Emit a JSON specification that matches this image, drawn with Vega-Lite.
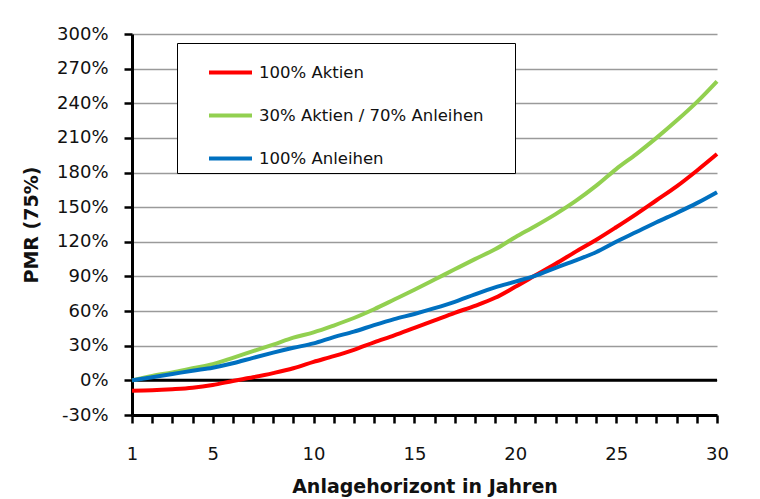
{
  "$schema": "https://vega.github.io/schema/vega-lite/v6.json",
  "width": 585,
  "height": 381,
  "autosize": {"type": "none"},
  "padding": {"left": 132, "top": 34, "right": 43, "bottom": 84},
  "background": "white",
  "config": {
    "view": {"stroke": null},
    "font": "DejaVu Sans",
    "axis": {"labelFont": "DejaVu Sans", "titleFont": "DejaVu Sans", "labelColor": "#111", "titleColor": "#111"},
    "axisY": {
      "labelOverlap": false, "labelFlush": false, "labelBound": false,
      "grid": true, "gridColor": "#9a9a9a", "gridWidth": 1.5,
      "domainColor": "black", "domainWidth": 3,
      "tickColor": "black", "tickWidth": 2.5, "tickSize": 8,
      "labelFontSize": 18, "labelPadding": 16,
      "titleFontSize": 19, "titleFontWeight": "bold", "titlePadding": 15
    }
  },
  "datasets": {
    "nulllinie": [{"wert": 0}],
    "pmr": [
      {"jahr": 1, "serie": "100% Aktien", "wert": -9},
      {"jahr": 2, "serie": "100% Aktien", "wert": -8.6},
      {"jahr": 3, "serie": "100% Aktien", "wert": -7.7},
      {"jahr": 4, "serie": "100% Aktien", "wert": -6.4},
      {"jahr": 5, "serie": "100% Aktien", "wert": -4.0},
      {"jahr": 6, "serie": "100% Aktien", "wert": -0.5},
      {"jahr": 7, "serie": "100% Aktien", "wert": 2.7},
      {"jahr": 8, "serie": "100% Aktien", "wert": 6.3},
      {"jahr": 9, "serie": "100% Aktien", "wert": 10.5},
      {"jahr": 10, "serie": "100% Aktien", "wert": 16},
      {"jahr": 11, "serie": "100% Aktien", "wert": 21},
      {"jahr": 12, "serie": "100% Aktien", "wert": 26.5},
      {"jahr": 13, "serie": "100% Aktien", "wert": 33},
      {"jahr": 14, "serie": "100% Aktien", "wert": 39},
      {"jahr": 15, "serie": "100% Aktien", "wert": 45.5},
      {"jahr": 16, "serie": "100% Aktien", "wert": 52},
      {"jahr": 17, "serie": "100% Aktien", "wert": 58.5},
      {"jahr": 18, "serie": "100% Aktien", "wert": 64.5},
      {"jahr": 19, "serie": "100% Aktien", "wert": 71.5},
      {"jahr": 20, "serie": "100% Aktien", "wert": 81},
      {"jahr": 21, "serie": "100% Aktien", "wert": 91},
      {"jahr": 22, "serie": "100% Aktien", "wert": 101},
      {"jahr": 23, "serie": "100% Aktien", "wert": 111.5},
      {"jahr": 24, "serie": "100% Aktien", "wert": 121.6},
      {"jahr": 25, "serie": "100% Aktien", "wert": 132.6},
      {"jahr": 26, "serie": "100% Aktien", "wert": 144},
      {"jahr": 27, "serie": "100% Aktien", "wert": 156},
      {"jahr": 28, "serie": "100% Aktien", "wert": 168},
      {"jahr": 29, "serie": "100% Aktien", "wert": 181.6},
      {"jahr": 30, "serie": "100% Aktien", "wert": 196},
      {"jahr": 1, "serie": "30% Aktien / 70% Anleihen", "wert": 0},
      {"jahr": 2, "serie": "30% Aktien / 70% Anleihen", "wert": 3.8},
      {"jahr": 3, "serie": "30% Aktien / 70% Anleihen", "wert": 6.9},
      {"jahr": 4, "serie": "30% Aktien / 70% Anleihen", "wert": 10.5},
      {"jahr": 5, "serie": "30% Aktien / 70% Anleihen", "wert": 14},
      {"jahr": 6, "serie": "30% Aktien / 70% Anleihen", "wert": 19.5},
      {"jahr": 7, "serie": "30% Aktien / 70% Anleihen", "wert": 25.3},
      {"jahr": 8, "serie": "30% Aktien / 70% Anleihen", "wert": 31},
      {"jahr": 9, "serie": "30% Aktien / 70% Anleihen", "wert": 37},
      {"jahr": 10, "serie": "30% Aktien / 70% Anleihen", "wert": 41.6},
      {"jahr": 11, "serie": "30% Aktien / 70% Anleihen", "wert": 47.5},
      {"jahr": 12, "serie": "30% Aktien / 70% Anleihen", "wert": 54},
      {"jahr": 13, "serie": "30% Aktien / 70% Anleihen", "wert": 61.6},
      {"jahr": 14, "serie": "30% Aktien / 70% Anleihen", "wert": 70},
      {"jahr": 15, "serie": "30% Aktien / 70% Anleihen", "wert": 78.5},
      {"jahr": 16, "serie": "30% Aktien / 70% Anleihen", "wert": 87.3},
      {"jahr": 17, "serie": "30% Aktien / 70% Anleihen", "wert": 96.2},
      {"jahr": 18, "serie": "30% Aktien / 70% Anleihen", "wert": 105},
      {"jahr": 19, "serie": "30% Aktien / 70% Anleihen", "wert": 113.5},
      {"jahr": 20, "serie": "30% Aktien / 70% Anleihen", "wert": 124},
      {"jahr": 21, "serie": "30% Aktien / 70% Anleihen", "wert": 133.7},
      {"jahr": 22, "serie": "30% Aktien / 70% Anleihen", "wert": 144},
      {"jahr": 23, "serie": "30% Aktien / 70% Anleihen", "wert": 155.4},
      {"jahr": 24, "serie": "30% Aktien / 70% Anleihen", "wert": 168.4},
      {"jahr": 25, "serie": "30% Aktien / 70% Anleihen", "wert": 183},
      {"jahr": 26, "serie": "30% Aktien / 70% Anleihen", "wert": 196},
      {"jahr": 27, "serie": "30% Aktien / 70% Anleihen", "wert": 210},
      {"jahr": 28, "serie": "30% Aktien / 70% Anleihen", "wert": 225},
      {"jahr": 29, "serie": "30% Aktien / 70% Anleihen", "wert": 241},
      {"jahr": 30, "serie": "30% Aktien / 70% Anleihen", "wert": 259},
      {"jahr": 1, "serie": "100% Anleihen", "wert": 0},
      {"jahr": 2, "serie": "100% Anleihen", "wert": 2.7},
      {"jahr": 3, "serie": "100% Anleihen", "wert": 5.5},
      {"jahr": 4, "serie": "100% Anleihen", "wert": 8.4},
      {"jahr": 5, "serie": "100% Anleihen", "wert": 11},
      {"jahr": 6, "serie": "100% Anleihen", "wert": 14.8},
      {"jahr": 7, "serie": "100% Anleihen", "wert": 19.5},
      {"jahr": 8, "serie": "100% Anleihen", "wert": 24},
      {"jahr": 9, "serie": "100% Anleihen", "wert": 28.2},
      {"jahr": 10, "serie": "100% Anleihen", "wert": 32},
      {"jahr": 11, "serie": "100% Anleihen", "wert": 37.5},
      {"jahr": 12, "serie": "100% Anleihen", "wert": 42.2},
      {"jahr": 13, "serie": "100% Anleihen", "wert": 47.8},
      {"jahr": 14, "serie": "100% Anleihen", "wert": 53},
      {"jahr": 15, "serie": "100% Anleihen", "wert": 57.5},
      {"jahr": 16, "serie": "100% Anleihen", "wert": 62.5},
      {"jahr": 17, "serie": "100% Anleihen", "wert": 68},
      {"jahr": 18, "serie": "100% Anleihen", "wert": 74.5},
      {"jahr": 19, "serie": "100% Anleihen", "wert": 80.5},
      {"jahr": 20, "serie": "100% Anleihen", "wert": 85.5},
      {"jahr": 21, "serie": "100% Anleihen", "wert": 90.7},
      {"jahr": 22, "serie": "100% Anleihen", "wert": 97.5},
      {"jahr": 23, "serie": "100% Anleihen", "wert": 104},
      {"jahr": 24, "serie": "100% Anleihen", "wert": 111},
      {"jahr": 25, "serie": "100% Anleihen", "wert": 120},
      {"jahr": 26, "serie": "100% Anleihen", "wert": 128.5},
      {"jahr": 27, "serie": "100% Anleihen", "wert": 137},
      {"jahr": 28, "serie": "100% Anleihen", "wert": 145},
      {"jahr": 29, "serie": "100% Anleihen", "wert": 153.5},
      {"jahr": 30, "serie": "100% Anleihen", "wert": 163}
    ]
  },
  "layer": [
    {
      "data": {"name": "nulllinie"},
      "mark": {"type": "rule", "color": "black", "strokeWidth": 3},
      "encoding": {
        "y": {
          "field": "wert", "type": "quantitative",
          "scale": {"domain": [-30, 300], "nice": false, "zero": false},
          "axis": {
            "title": "PMR (75%)",
            "values": [-30, 0, 30, 60, 90, 120, 150, 180, 210, 240, 270, 300],
            "tickCount": 40,
            "labelExpr": "datum.value + '%'"
          }
        }
      }
    },
    {
      "data": {"name": "pmr"},
      "mark": {"type": "line", "strokeWidth": 4, "interpolate": "monotone", "clip": false},
      "encoding": {
        "x": {
          "field": "jahr", "type": "quantitative",
          "scale": {"domain": [1, 30], "nice": false, "zero": false},
          "axis": {
            "title": "Anlagehorizont in Jahren",
            "values": [1,2,3,4,5,6,7,8,9,10,11,12,13,14,15,16,17,18,19,20,21,22,23,24,25,26,27,28,29,30],
            "tickCount": 60,
            "labelExpr": "datum.value == 1 || datum.value % 5 == 0 ? datum.value : ''",
            "labelOverlap": false, "labelFlush": false, "labelBound": false,
            "grid": false,
            "domainColor": "black", "domainWidth": 3,
            "tickColor": "black", "tickWidth": 2.5, "tickSize": 8,
            "labelFontSize": 18, "labelPadding": 22,
            "titleFontSize": 19, "titleFontWeight": "bold", "titlePadding": 14
          }
        },
        "y": {
          "field": "wert", "type": "quantitative",
          "scale": {"domain": [-30, 300], "nice": false, "zero": false},
          "axis": {
            "title": "PMR (75%)",
            "values": [-30, 0, 30, 60, 90, 120, 150, 180, 210, 240, 270, 300],
            "tickCount": 40,
            "labelExpr": "datum.value + '%'"
          }
        },
        "color": {
          "field": "serie", "type": "nominal",
          "scale": {
            "domain": ["100% Aktien", "30% Aktien / 70% Anleihen", "100% Anleihen"],
            "range": ["#ff0000", "#92d050", "#0070c0"]
          },
          "legend": {
            "title": "\u00a0",
            "titleOrient": "right",
            "titlePadding": 25,
            "titleFontSize": 4,
            "orient": "none",
            "legendX": 45,
            "legendY": 9,
            "strokeColor": "black",
            "fillColor": "white",
            "padding": 6,
            "symbolType": "stroke",
            "symbolSize": 1849,
            "symbolStrokeWidth": 4,
            "rowPadding": 11,
            "labelFont": "DejaVu Sans",
            "labelFontSize": 16.5,
            "labelColor": "#111",
            "labelLimit": 500,
            "labelOffset": 5,
            "symbolOffset": 24
          }
        }
      }
    }
  ]
}
